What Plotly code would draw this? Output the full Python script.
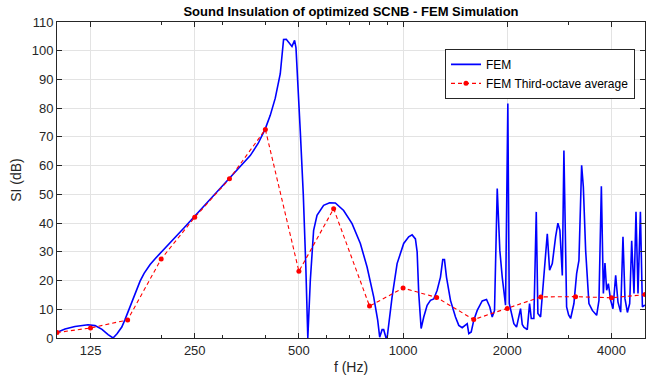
import plotly.graph_objects as go

# FEM curve (frequency in Hz, SI in dB)
fem_freq = [100, 105.5, 112.7, 122.9, 128.8, 134.9, 140.5, 145.2, 149.1, 153.9,
            157.3, 161.5, 165.9, 170.4, 173.8, 178.5, 182.1, 185.8, 192.1, 198.6, 208.1,
            219.5, 233.0, 249.1, 277.1, 316.6, 361.7, 381.5, 399.7, 413.2, 427.2,
            441.7, 451.5, 459.7, 469.0, 477.5, 485.8, 490.4,
            504.6, 514.8, 523.5, 530.5, 539.4, 551.4, 564.0, 589.3, 613.4, 637.1,
            673.3, 712.1, 752.5, 786.9, 822.3, 844.5, 855.8, 869.6, 878.9, 891.9,
            899.0, 911.1, 929.5, 960.9, 1004, 1038, 1062, 1085.5, 1098, 1109.7,
            1127.6, 1147.3, 1173.5, 1199.6, 1226.3, 1254.4, 1282.3, 1302, 1316.9, 1334.6,
            1370.6, 1417, 1448.5, 1481.7, 1514.6, 1531.9, 1548.3, 1573.2, 1600.7, 1637.4,
            1692.8, 1742, 1780.7, 1809.4, 1837.3, 1870.7, 1903.3, 1934, 1977, 2007.5,
            2026.3, 2053.5, 2089.4, 2127.3, 2160.1, 2184.7, 2209.6, 2233.3, 2284.4, 2319.7,
            2346.1, 2387.1, 2425.6, 2451.6, 2496.1, 2551.6, 2610, 2650.3, 2698.4, 2758.4,
            2801, 2838.5, 2884.3, 2915.2, 2968.1, 3007.9, 3048.2, 3116, 3172.6, 3221.5,
            3280, 3317.4, 3368.6, 3443.5, 3522.4, 3624.7, 3680.7, 3740, 3790.2, 3830.8,
            3874.4, 3918.5, 3979, 4040.4, 4113.7, 4177.2, 4253, 4318.7, 4376.6, 4447.1,
            4515.8, 4576.3, 4647, 4709.3, 4772.4, 4849.3, 4914.3, 4990, 5000]
fem_si = [2.0, 3.1, 4.0, 4.6, 4.3, 3.0, 1.2, 0.0, 1.5, 3.8,
          6.5, 10.0, 13.8, 17.2, 19.8, 22.5, 24.2, 25.6, 27.6, 29.4, 32.0,
          35.0, 38.4, 42.2, 48.2, 55.8, 63.5, 67.8, 72.8, 77.5, 83.5,
          92.0, 103.9, 104.0, 102.5, 101.5, 103.6, 101.0,
          72.0, 50.0, 25.0, 0.0, 20.0, 37.5, 42.7, 46.2, 47.1, 47.0,
          44.4, 39.8, 32.9, 24.7, 14.3, 6.2, 0.3, 2.9, 2.9, 0.2,
          0.0, 6.2, 14.3, 25.9, 32.9, 35.2, 35.9, 34.5, 30.0, 15.5,
          3.3, 7.3, 11.4, 13.1, 13.6, 16.6, 21.2, 27.3, 27.3, 21.2,
          13.1, 7.3, 4.4, 3.6, 4.4, 5.0, 1.5, 2.1, 6.2, 9.6,
          12.9, 13.4, 10.8, 7.3, 9.6, 52.0, 30.5, 21.2, 11.4, 81.6,
          12.0, 9.0, 5.0, 3.8, 8.1, 10.2, 4.7, 3.8, 2.9, 12.0,
          6.8, 6.8, 43.9, 8.5, 7.3, 21.2, 36.3, 23.6, 25.9, 35.2,
          40.0, 37.5, 21.8, 65.3, 10.8, 8.0, 6.8, 12.0, 22.4, 27.0,
          60.1, 52.6, 30.5, 12.0, 9.6, 7.9, 13.1, 52.8, 15.5, 26.1,
          16.6, 18.9, 13.1, 10.2, 21.8, 12.5, 9.0, 35.2, 13.7, 8.9,
          12.0, 33.8, 15.5, 43.9, 15.5, 43.9, 10.8, 11.4, 11.5]

# Third-octave averages
toct_freq = [100, 125, 160, 200, 250, 315, 400, 500, 630, 800,
             1000, 1250, 1600, 2000, 2500, 3150, 4000, 5000]
toct_si = [1.9, 3.5, 6.3, 27.5, 42.0, 55.4, 72.6, 23.2, 45.0, 11.1,
           17.4, 14.1, 6.4, 10.3, 14.3, 14.4, 14.0, 15.1]

xtick_vals = [125, 250, 500, 1000, 2000, 4000]
xtick_text = ["125", "250", "500", "1000", "2000", "4000"]
xminor_vals = [200, 300, 400, 600, 700, 800, 900, 3000]

axis_col = "#262626"
grid_col = "#e3e3e3"
font_family = "Liberation Sans, Arial, Helvetica, sans-serif"

fig = go.Figure()
fig.add_trace(go.Scatter(
    x=fem_freq, y=fem_si, mode="lines", name="FEM",
    line=dict(color="#0000ff", width=1.6)))
fig.add_trace(go.Scatter(
    x=toct_freq, y=toct_si, mode="lines+markers", name="FEM Third-octave average",
    line=dict(color="#ff0000", width=1.1, dash="4px,3px"),
    marker=dict(color="#ff0000", size=5)))

fig.update_layout(
    width=656, height=378,
    margin=dict(l=57, r=11, t=22, b=40, autoexpand=False),
    paper_bgcolor="white", plot_bgcolor="white",
    font=dict(family=font_family, size=13, color=axis_col),
    title=dict(text="<b>Sound Insulation of optimized SCNB - FEM Simulation</b>",
               x=(57 + 645) / 2 / 656, xanchor="center", y=1 - 11 / 378, yanchor="middle",
               font=dict(size=13, color="black")),
    showlegend=True,
    legend=dict(x=0.983, xanchor="right", y=0.915, yanchor="top",
                bgcolor="white", bordercolor="#262626", borderwidth=1,
                font=dict(size=12, color="black"),
                itemwidth=30, tracegroupgap=0),
)
fig.update_xaxes(
    type="log", range=[2, 3.69897], automargin=False,
    tickmode="array", tickvals=xtick_vals, ticktext=xtick_text,
    ticks="inside", ticklen=5, tickcolor=axis_col,
    showline=True, linecolor=axis_col, linewidth=1, mirror="allticks",
    showgrid=True, gridcolor=grid_col, zeroline=False,
    minor=dict(tickmode="array", tickvals=xminor_vals, ticks="inside", ticklen=3,
               tickcolor=axis_col, showgrid=False),
    title=dict(text="f (Hz)", font=dict(size=14), standoff=5),
    tickfont=dict(size=13),
)
fig.update_yaxes(
    range=[0, 110], tickmode="linear", tick0=0, dtick=10, automargin=False,
    ticks="inside", ticklen=5, tickcolor=axis_col,
    showline=True, linecolor=axis_col, linewidth=1, mirror="allticks",
    showgrid=True, gridcolor=grid_col, zeroline=False,
    title=dict(text="SI (dB)", font=dict(size=14), standoff=6),
    tickfont=dict(size=13),
)

fig.write_html("out.html")
